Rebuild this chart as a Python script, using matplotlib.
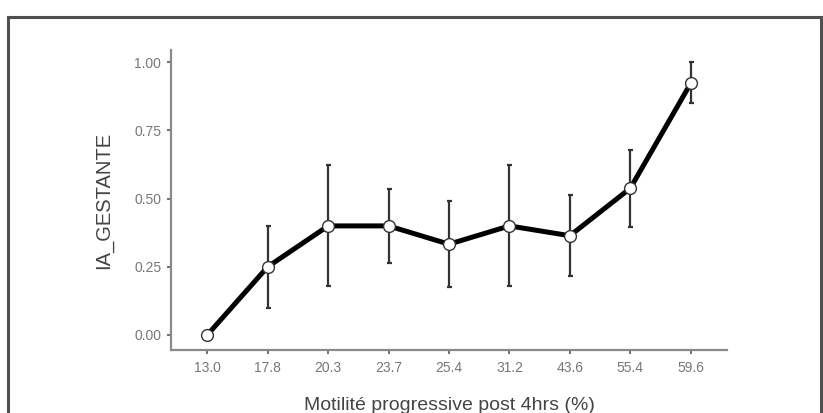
import matplotlib
matplotlib.use("Agg")
import matplotlib.pyplot as plt
from matplotlib.patches import Rectangle

# Motilité progressive post 4hrs (%) vs taux de gestation
categories = ["13.0", "17.8", "20.3", "23.7", "25.4", "31.2", "43.6", "55.4", "59.6"]
means = [0.000, 0.250, 0.400, 0.400, 0.333, 0.400, 0.364, 0.538, 0.923]
lower = [0.000, 0.100, 0.178, 0.265, 0.176, 0.178, 0.215, 0.397, 0.850]
upper = [0.000, 0.400, 0.622, 0.535, 0.490, 0.622, 0.513, 0.679, 1.000]
yticks = [0.00, 0.25, 0.50, 0.75, 1.00]

plt.rcParams["font.family"] = ["Liberation Sans", "DejaVu Sans"]

fig = plt.figure(figsize=(8.23, 4.13), dpi=100)

# outer frame around the panel
fig.patches.append(Rectangle((8 / 823, -0.05), (813 / 823), 1 - 17 / 413 + 0.05,
                             transform=fig.transFigure, fill=False,
                             edgecolor="#505050", linewidth=2.2, zorder=0))

ax = fig.add_axes([171 / 823, 1 - 350 / 413, (727 - 171) / 823, (350 - 50) / 413])

x = list(range(len(categories)))
yerr = [[m - lo for m, lo in zip(means, lower)], [hi - m for m, hi in zip(means, upper)]]

ax.errorbar(x, means, yerr=yerr, fmt="none", ecolor="#333333", elinewidth=1.6,
            capsize=1.8, capthick=1.6, zorder=2)
ax.plot(x, means, color="black", linewidth=3.6, zorder=3)
ax.plot(x, means, linestyle="none", marker="o", markersize=8.5,
        markerfacecolor="white", markeredgecolor="#333333", markeredgewidth=1.0, zorder=4)

ax.set_xlim(-0.6, len(categories) - 1 + 0.6)
ax.set_ylim(-0.055, 1.045)
ax.set_xticks(x)
ax.set_xticklabels(categories)
ax.set_yticks(yticks)
ax.set_yticklabels([f"{v:.2f}" for v in yticks])

for side in ("top", "right"):
    ax.spines[side].set_visible(False)
for side in ("left", "bottom"):
    ax.spines[side].set_color("#8a8a8a")
    ax.spines[side].set_linewidth(1.6)

ax.tick_params(axis="both", colors="#555555", labelcolor="#777777", labelsize=10,
               length=3, width=1.2)
ax.tick_params(axis="x", pad=5)
ax.tick_params(axis="y", pad=4)

ax.set_xlabel("Motilité progressive post 4hrs (%)", fontsize=14, color="#444444", labelpad=16)
ax.set_ylabel("IA_GESTANTE", fontsize=14.5, color="#444444", labelpad=15)

fig.savefig("out.png", dpi=100)
